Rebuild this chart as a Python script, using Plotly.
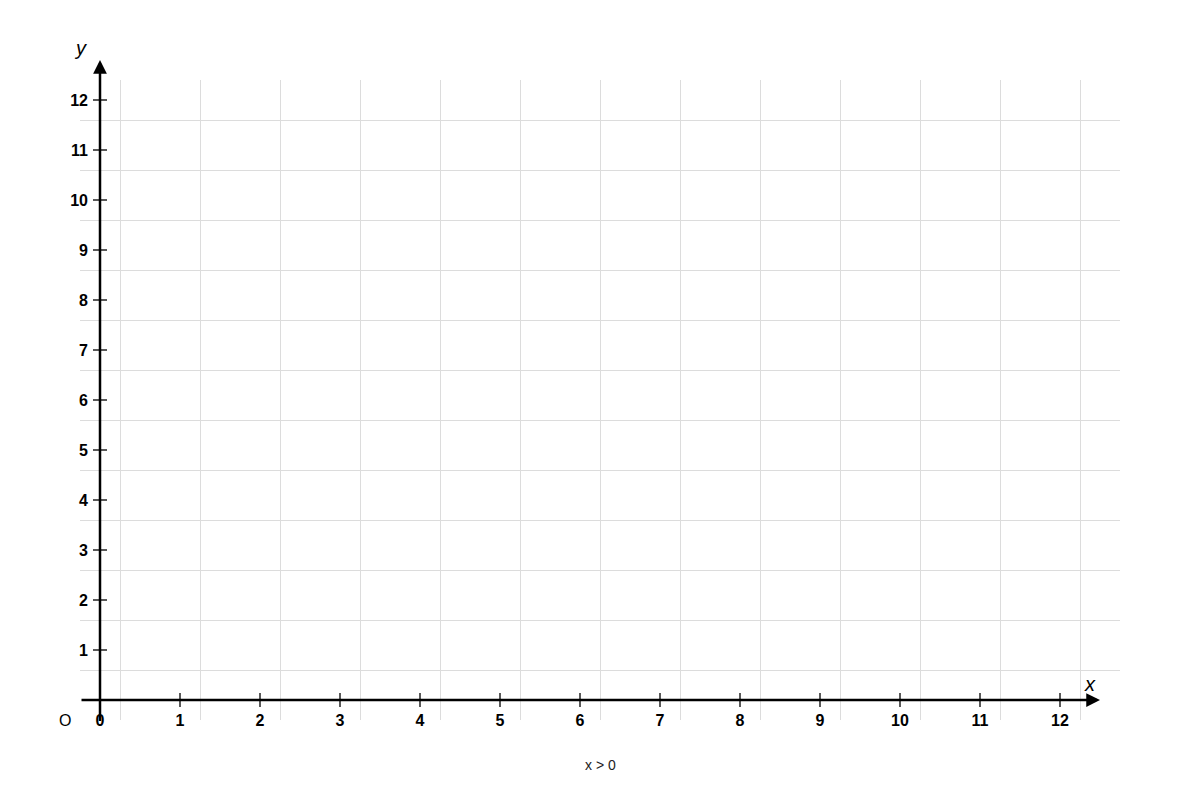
"""
Empty first-quadrant coordinate grid, x > 0.
- axes drawn as arrows through the origin
- grid offset from the integer ticks
"""

import plotly.graph_objects as go

# tick values / labels
x_ticks = list(range(0, 13))
y_ticks = list(range(0, 13))
y_tick_labels = [str(v) for v in y_ticks]
x_tick_labels = [str(v) for v in x_ticks]

# view window and axis extents (data units)
x_range = [-0.25, 12.75]
y_range = [-0.4, 12.4]
x_axis_span = [-0.25, 12.5]
y_axis_span = [-0.45, 12.8]

# grid offsets
x_grid_start = 0.25
y_grid_start = 0.6

caption = "x > 0"

FONT = "Liberation Sans, Arial, sans-serif"


def ypaper(v):
    return (v - y_range[0]) / (y_range[1] - y_range[0])


def xpaper(v):
    return (v - x_range[0]) / (x_range[1] - x_range[0])


fig = go.Figure()

# tick marks crossing the axes
fig.add_trace(go.Scatter(
    x=x_ticks[1:], y=[0] * (len(x_ticks) - 1), mode="markers",
    marker=dict(symbol="line-ns", size=10, line=dict(width=1.5, color="#222")),
    hoverinfo="skip", showlegend=False,
))
fig.add_trace(go.Scatter(
    x=[0] * (len(y_ticks) - 1), y=y_ticks[1:], mode="markers",
    marker=dict(symbol="line-ew", size=10, line=dict(width=1.5, color="#222")),
    hoverinfo="skip", showlegend=False,
))

# axis arrows
fig.add_annotation(x=x_axis_span[1], y=0, ax=x_axis_span[0], ay=0,
                   xref="x", yref="y", axref="x", ayref="y",
                   showarrow=True, arrowhead=2, arrowsize=1.1, arrowwidth=2.5,
                   arrowcolor="black", text="")
fig.add_annotation(x=0, y=ypaper(y_axis_span[1]), ax=0, ay=ypaper(y_axis_span[0]),
                   xref="x", yref="y domain", axref="x", ayref="y domain",
                   showarrow=True, arrowhead=2, arrowsize=1.1, arrowwidth=2.5,
                   arrowcolor="black", text="")

# axis names and origin
label_kw = dict(showarrow=False, xanchor="center", yanchor="middle")
fig.add_annotation(x=x_axis_span[1] - 0.12, y=0.32, xref="x", yref="y", text="<i>x</i>",
                   font=dict(family=FONT, size=20, color="black"), **label_kw)
fig.add_annotation(x=xpaper(-0.25), y=ypaper(13.04), xref="paper", yref="paper",
                   text="<i>y</i>", font=dict(family=FONT, size=20, color="black"),
                   **label_kw)
fig.add_annotation(x=xpaper(-0.44), y=ypaper(-0.4), xref="paper", yref="paper", text="O",
                   font=dict(family=FONT, size=16, color="black"), **label_kw)
fig.add_annotation(x=0.5, y=-0.0703, xref="paper", yref="paper", text=caption,
                   font=dict(family=FONT, size=14, color="#222"), **label_kw)

fig.update_layout(
    width=1200, height=800,
    paper_bgcolor="white", plot_bgcolor="white",
    # page body adds 8px, so pull the plot back by that much
    margin=dict(l=72, r=88, t=72, b=88),
    font=dict(family=FONT, color="black"),
    showlegend=False,
    xaxis=dict(range=x_range, showgrid=False, zeroline=False, showline=False,
               tickvals=x_ticks, ticktext=[f"<b>{t}</b>" for t in x_tick_labels],
               tickfont=dict(size=16), ticks="", anchor="free", position=ypaper(0),
               ticklabelstandoff=9),
    yaxis=dict(range=y_range, showgrid=False, zeroline=False, showline=False,
               tickvals=y_ticks[1:], ticktext=[f"<b>{t}</b>" for t in y_tick_labels[1:]],
               tickfont=dict(size=16), ticks="", anchor="free", position=xpaper(0),
               ticklabelstandoff=12),
    xaxis2=dict(range=x_range, overlaying="x", showgrid=True, gridcolor="#dcdcdc",
                gridwidth=1, tick0=x_grid_start, dtick=1, showticklabels=False,
                zeroline=False, showline=False, ticks=""),
    yaxis2=dict(range=y_range, overlaying="y", showgrid=True, gridcolor="#dcdcdc",
                gridwidth=1, tick0=y_grid_start, dtick=1, showticklabels=False,
                zeroline=False, showline=False, ticks=""),
)

# invisible point so the grid axes get drawn
fig.add_trace(go.Scatter(x=[x_range[0]], y=[y_range[0]], xaxis="x2", yaxis="y2",
                         mode="markers", marker=dict(opacity=0), hoverinfo="skip",
                         showlegend=False))

fig.write_html("out.html")
